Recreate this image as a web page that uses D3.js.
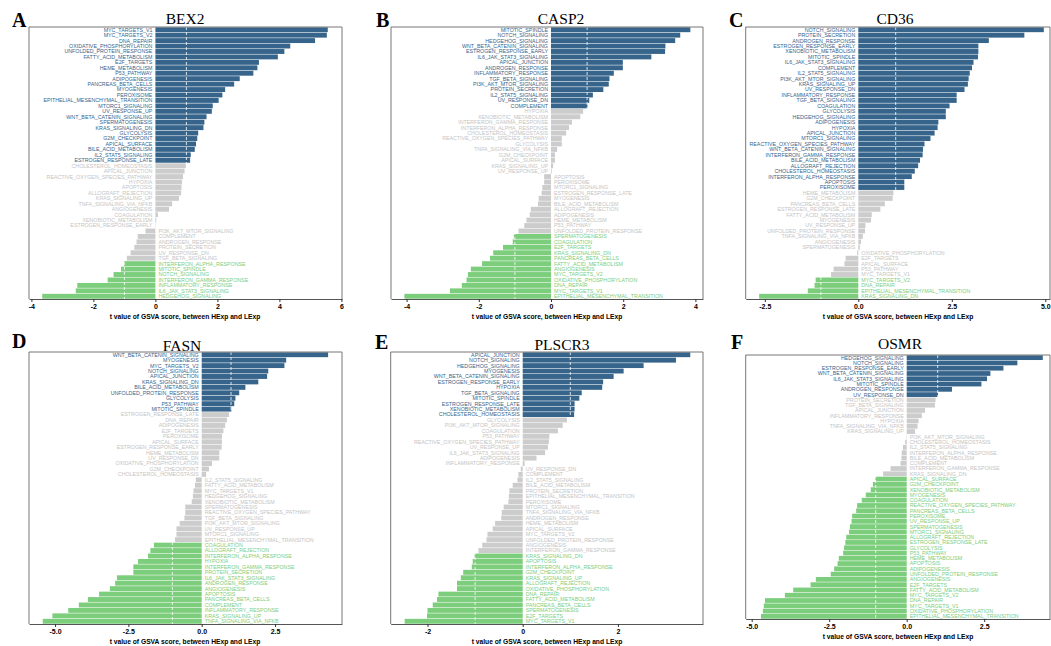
<!DOCTYPE html>
<html><head><meta charset="utf-8">
<script src="https://cdn.jsdelivr.net/npm/d3@7"></script>
<style>body{margin:0;background:#fff}svg{display:block}</style>
</head><body>
<svg id="chart" width="1051" height="646"></svg>
<script>
// ---------- DATA ----------
const bex2Sets = ["MYC_TARGETS_V1","MYC_TARGETS_V2","DNA_REPAIR","OXIDATIVE_PHOSPHORYLATION","UNFOLDED_PROTEIN_RESPONSE","FATTY_ACID_METABOLISM","E2F_TARGETS","HEME_METABOLISM","P53_PATHWAY","ADIPOGENESIS","PANCREAS_BETA_CELLS","MYOGENESIS","PEROXISOME","EPITHELIAL_MESENCHYMAL_TRANSITION","MTORC1_SIGNALING","UV_RESPONSE_UP","WNT_BETA_CATENIN_SIGNALING","SPERMATOGENESIS","KRAS_SIGNALING_DN","GLYCOLYSIS","G2M_CHECKPOINT","APICAL_SURFACE","BILE_ACID_METABOLISM","IL2_STAT5_SIGNALING","ESTROGEN_RESPONSE_LATE","CHOLESTEROL_HOMEOSTASIS","APICAL_JUNCTION","REACTIVE_OXYGEN_SPECIES_PATHWAY","HYPOXIA","APOPTOSIS","ALLOGRAFT_REJECTION","KRAS_SIGNALING_UP","TNFA_SIGNALING_VIA_NFKB","ANGIOGENESIS","COAGULATION","XENOBIOTIC_METABOLISM","ESTROGEN_RESPONSE_EARLY","PI3K_AKT_MTOR_SIGNALING","COMPLEMENT","ANDROGEN_RESPONSE","PROTEIN_SECRETION","UV_RESPONSE_DN","TGF_BETA_SIGNALING","INTERFERON_ALPHA_RESPONSE","MITOTIC_SPINDLE","NOTCH_SIGNALING","INTERFERON_GAMMA_RESPONSE","INFLAMMATORY_RESPONSE","IL6_JAK_STAT3_SIGNALING","HEDGEHOG_SIGNALING"];
const bex2T = [5.56,5.53,5.15,4.35,4.16,3.95,3.34,3.29,3.16,2.72,2.54,2.25,2.16,2.04,1.85,1.82,1.65,1.58,1.55,1.38,1.35,1.31,1.27,1.14,1.12,0.98,0.94,0.89,0.86,0.84,0.83,0.76,0.54,0.44,0.08,0.03,0.01,-0.32,-0.57,-0.61,-0.68,-0.80,-0.92,-1.01,-1.11,-1.35,-1.54,-2.52,-2.57,-3.65];

const casp2Sets = ["MITOTIC_SPINDLE","NOTCH_SIGNALING","HEDGEHOG_SIGNALING","WNT_BETA_CATENIN_SIGNALING","ESTROGEN_RESPONSE_EARLY","IL6_JAK_STAT3_SIGNALING","APICAL_JUNCTION","ANDROGEN_RESPONSE","INFLAMMATORY_RESPONSE","TGF_BETA_SIGNALING","PI3K_AKT_MTOR_SIGNALING","PROTEIN_SECRETION","IL2_STAT5_SIGNALING","UV_RESPONSE_DN","COMPLEMENT","HYPOXIA","XENOBIOTIC_METABOLISM","INTERFERON_GAMMA_RESPONSE","INTERFERON_ALPHA_RESPONSE","CHOLESTEROL_HOMEOSTASIS","REACTIVE_OXYGEN_SPECIES_PATHWAY","GLYCOLYSIS","TNFA_SIGNALING_VIA_NFKB","G2M_CHECKPOINT","APICAL_SURFACE","KRAS_SIGNALING_UP","UV_RESPONSE_UP","APOPTOSIS","PEROXISOME","MTORC1_SIGNALING","ESTROGEN_RESPONSE_LATE","MYOGENESIS","BILE_ACID_METABOLISM","ALLOGRAFT_REJECTION","ADIPOGENESIS","HEME_METABOLISM","P53_PATHWAY","UNFOLDED_PROTEIN_RESPONSE","SPERMATOGENESIS","COAGULATION","E2F_TARGETS","KRAS_SIGNALING_DN","PANCREAS_BETA_CELLS","FATTY_ACID_METABOLISM","ANGIOGENESIS","MYC_TARGETS_V2","OXIDATIVE_PHOSPHORYLATION","DNA_REPAIR","MYC_TARGETS_V1","EPITHELIAL_MESENCHYMAL_TRANSITION"];
const casp2T = [3.86,3.58,3.44,3.17,3.16,2.78,1.99,1.99,1.74,1.62,1.60,1.45,1.16,1.06,1.01,0.89,0.81,0.58,0.50,0.42,0.30,0.30,0.17,0.11,0.11,0.06,0.02,-0.19,-0.19,-0.24,-0.26,-0.34,-0.36,-0.56,-0.59,-0.68,-0.74,-0.90,-1.03,-1.06,-1.33,-1.60,-1.69,-1.91,-2.22,-2.30,-2.34,-2.47,-2.80,-4.06];

const cd36Sets = ["NOTCH_SIGNALING","PROTEIN_SECRETION","ANDROGEN_RESPONSE","ESTROGEN_RESPONSE_EARLY","XENOBIOTIC_METABOLISM","MITOTIC_SPINDLE","IL6_JAK_STAT3_SIGNALING","COMPLEMENT","IL2_STAT5_SIGNALING","PI3K_AKT_MTOR_SIGNALING","KRAS_SIGNALING_UP","UV_RESPONSE_DN","INFLAMMATORY_RESPONSE","TGF_BETA_SIGNALING","COAGULATION","GLYCOLYSIS","HEDGEHOG_SIGNALING","ADIPOGENESIS","HYPOXIA","APICAL_JUNCTION","MTORC1_SIGNALING","REACTIVE_OXYGEN_SPECIES_PATHWAY","WNT_BETA_CATENIN_SIGNALING","INTERFERON_GAMMA_RESPONSE","BILE_ACID_METABOLISM","ALLOGRAFT_REJECTION","CHOLESTEROL_HOMEOSTASIS","INTERFERON_ALPHA_RESPONSE","APOPTOSIS","PEROXISOME","HEME_METABOLISM","G2M_CHECKPOINT","PANCREAS_BETA_CELLS","ESTROGEN_RESPONSE_LATE","FATTY_ACID_METABOLISM","MYOGENESIS","UV_RESPONSE_UP","UNFOLDED_PROTEIN_RESPONSE","TNFA_SIGNALING_VIA_NFKB","ANGIOGENESIS","SPERMATOGENESIS","OXIDATIVE_PHOSPHORYLATION","E2F_TARGETS","APICAL_SURFACE","P53_PATHWAY","MYC_TARGETS_V1","MYC_TARGETS_V2","DNA_REPAIR","EPITHELIAL_MESENCHYMAL_TRANSITION","KRAS_SIGNALING_DN"];
const cd36T = [4.96,4.44,3.49,3.21,3.21,3.20,3.08,3.04,2.98,2.95,2.93,2.84,2.63,2.63,2.44,2.34,2.34,2.14,2.12,2.04,1.93,1.77,1.73,1.72,1.65,1.60,1.51,1.43,1.23,1.23,0.94,0.92,0.71,0.59,0.36,0.34,0.19,0.18,0.12,0.07,0.04,-0.03,-0.34,-0.37,-0.66,-0.73,-1.14,-1.17,-1.35,-2.65];

const fasnSets = ["WNT_BETA_CATENIN_SIGNALING","MYOGENESIS","MYC_TARGETS_V2","NOTCH_SIGNALING","APICAL_JUNCTION","KRAS_SIGNALING_DN","BILE_ACID_METABOLISM","UNFOLDED_PROTEIN_RESPONSE","GLYCOLYSIS","P53_PATHWAY","MITOTIC_SPINDLE","ESTROGEN_RESPONSE_LATE","DNA_REPAIR","ADIPOGENESIS","E2F_TARGETS","PEROXISOME","APICAL_SURFACE","ESTROGEN_RESPONSE_EARLY","HEME_METABOLISM","UV_RESPONSE_DN","OXIDATIVE_PHOSPHORYLATION","G2M_CHECKPOINT","CHOLESTEROL_HOMEOSTASIS","IL2_STAT5_SIGNALING","FATTY_ACID_METABOLISM","MYC_TARGETS_V1","HEDGEHOG_SIGNALING","XENOBIOTIC_METABOLISM","SPERMATOGENESIS","REACTIVE_OXYGEN_SPECIES_PATHWAY","TGF_BETA_SIGNALING","PI3K_AKT_MTOR_SIGNALING","UV_RESPONSE_UP","MTORC1_SIGNALING","EPITHELIAL_MESENCHYMAL_TRANSITION","COAGULATION","ALLOGRAFT_REJECTION","INTERFERON_ALPHA_RESPONSE","HYPOXIA","INTERFERON_GAMMA_RESPONSE","PROTEIN_SECRETION","IL6_JAK_STAT3_SIGNALING","ANDROGEN_RESPONSE","ANGIOGENESIS","APOPTOSIS","PANCREAS_BETA_CELLS","COMPLEMENT","INFLAMMATORY_RESPONSE","KRAS_SIGNALING_UP","TNFA_SIGNALING_VIA_NFKB"];
const fasnT = [4.31,2.88,2.82,2.27,2.23,1.93,1.49,1.28,1.15,1.11,1.01,0.93,0.86,0.80,0.74,0.69,0.69,0.68,0.60,0.60,0.35,0.25,0.15,-0.20,-0.23,-0.28,-0.30,-0.34,-0.56,-0.56,-0.59,-0.75,-0.86,-0.86,-0.91,-1.63,-1.75,-1.83,-2.17,-2.33,-2.33,-2.89,-2.95,-3.13,-3.50,-3.88,-4.19,-4.55,-5.09,-5.42];

const plscr3Sets = ["APICAL_JUNCTION","NOTCH_SIGNALING","HEDGEHOG_SIGNALING","MYOGENESIS","WNT_BETA_CATENIN_SIGNALING","ESTROGEN_RESPONSE_EARLY","HYPOXIA","TGF_BETA_SIGNALING","MITOTIC_SPINDLE","ESTROGEN_RESPONSE_LATE","XENOBIOTIC_METABOLISM","CHOLESTEROL_HOMEOSTASIS","GLYCOLYSIS","PI3K_AKT_MTOR_SIGNALING","COAGULATION","P53_PATHWAY","REACTIVE_OXYGEN_SPECIES_PATHWAY","UV_RESPONSE_UP","IL6_JAK_STAT3_SIGNALING","ADIPOGENESIS","INFLAMMATORY_RESPONSE","UV_RESPONSE_DN","COMPLEMENT","IL2_STAT5_SIGNALING","BILE_ACID_METABOLISM","PROTEIN_SECRETION","EPITHELIAL_MESENCHYMAL_TRANSITION","PEROXISOME","MTORC1_SIGNALING","TNFA_SIGNALING_VIA_NFKB","ANDROGEN_RESPONSE","HEME_METABOLISM","APICAL_SURFACE","MYC_TARGETS_V2","UNFOLDED_PROTEIN_RESPONSE","ANGIOGENESIS","INTERFERON_GAMMA_RESPONSE","KRAS_SIGNALING_DN","APOPTOSIS","INTERFERON_ALPHA_RESPONSE","G2M_CHECKPOINT","KRAS_SIGNALING_UP","ALLOGRAFT_REJECTION","OXIDATIVE_PHOSPHORYLATION","DNA_REPAIR","FATTY_ACID_METABOLISM","PANCREAS_BETA_CELLS","SPERMATOGENESIS","E2F_TARGETS","MYC_TARGETS_V1"];
const plscr3T = [3.52,3.22,2.54,2.12,1.91,1.69,1.67,1.24,1.19,1.09,1.09,1.08,0.93,0.84,0.74,0.56,0.55,0.53,0.47,0.29,0.04,-0.04,-0.09,-0.11,-0.21,-0.28,-0.29,-0.30,-0.40,-0.44,-0.45,-0.58,-0.63,-0.74,-0.76,-0.85,-0.93,-1.01,-1.05,-1.07,-1.25,-1.30,-1.38,-1.38,-1.77,-1.80,-1.89,-2.00,-2.01,-2.48];

const osmrSets = ["HEDGEHOG_SIGNALING","NOTCH_SIGNALING","ESTROGEN_RESPONSE_EARLY","WNT_BETA_CATENIN_SIGNALING","IL6_JAK_STAT3_SIGNALING","MITOTIC_SPINDLE","ANDROGEN_RESPONSE","UV_RESPONSE_DN","PROTEIN_SECRETION","TGF_BETA_SIGNALING","APICAL_JUNCTION","INFLAMMATORY_RESPONSE","HYPOXIA","TNFA_SIGNALING_VIA_NFKB","KRAS_SIGNALING_UP","PI3K_AKT_MTOR_SIGNALING","CHOLESTEROL_HOMEOSTASIS","IL2_STAT5_SIGNALING","INTERFERON_ALPHA_RESPONSE","BILE_ACID_METABOLISM","COMPLEMENT","INTERFERON_GAMMA_RESPONSE","KRAS_SIGNALING_DN","APICAL_SURFACE","G2M_CHECKPOINT","XENOBIOTIC_METABOLISM","MYOGENESIS","COAGULATION","REACTIVE_OXYGEN_SPECIES_PATHWAY","PANCREAS_BETA_CELLS","PEROXISOME","UV_RESPONSE_UP","SPERMATOGENESIS","MTORC1_SIGNALING","ALLOGRAFT_REJECTION","ESTROGEN_RESPONSE_LATE","GLYCOLYSIS","P53_PATHWAY","HEME_METABOLISM","APOPTOSIS","ADIPOGENESIS","UNFOLDED_PROTEIN_RESPONSE","ANGIOGENESIS","E2F_TARGETS","FATTY_ACID_METABOLISM","MYC_TARGETS_V2","DNA_REPAIR","MYC_TARGETS_V1","OXIDATIVE_PHOSPHORYLATION","EPITHELIAL_MESENCHYMAL_TRANSITION"];
const osmrT = [4.39,3.57,3.12,2.70,2.59,2.41,1.46,1.01,0.93,0.91,0.59,0.49,0.38,0.35,0.27,-0.01,-0.05,-0.12,-0.16,-0.17,-0.20,-0.52,-0.76,-1.01,-1.09,-1.16,-1.32,-1.45,-1.60,-1.63,-1.76,-1.78,-1.83,-1.86,-1.95,-1.98,-2.02,-2.05,-2.19,-2.23,-2.34,-2.45,-2.93,-3.10,-3.66,-3.93,-4.57,-4.61,-4.64,-4.70];

const panelLetters = ["A","B","C","D","E","F"];
const panelGenes = ["BEX2","CASP2","CD36","FASN","PLSCR3","OSMR"];
const panelTicks = [[-4,-2,0,2,4,6],[-4,-2,0,2,4],[-2.5,0,2.5,5],[-5,-2.5,0,2.5],[-2,0,2],[-5,-2.5,0,2.5]];
const axisTitle = "t value of GSVA score, between HExp and LExp";

// ---------- LAYOUT ----------
const layout = [
  {sets: bex2Sets, t: bex2T, L:29, R:342, T:27, B:299, zero:155.4, unit:31.0, fmt:"d", tx:185, ty:24, lx:12, ly:26.7, ax:185},
  {sets: casp2Sets, t: casp2T, L:391, R:703, T:27, B:299, zero:551, unit:36.1, fmt:"d", tx:561, ty:24, lx:376, ly:27, ax:547},
  {sets: cd36Sets, t: cd36T, L:745.7, R:1050, T:27, B:299, zero:858.3, unit:37.4, fmt:".1f", tx:895, ty:24, lx:729, ly:26.7, ax:898},
  {sets: fasnSets, t: fasnT, L:29, R:342, T:352, B:624, zero:201.7, unit:29.33, fmt:".1f", tx:182, ty:350.5, lx:12, ly:348, ax:185},
  {sets: plscr3Sets, t: plscr3T, L:390.7, R:703, T:352, B:624, zero:522.7, unit:47.6, fmt:"d", tx:562, ty:350, lx:375, ly:349, ax:547},
  {sets: osmrSets, t: osmrT, L:745.7, R:1050, T:355, B:619, zero:906.7, unit:31.0, fmt:".1f", tx:900, ty:349, lx:731, ly:349, ax:898}
];

const BLUE = "#36648B", GREEN = "#7CCD7C", GREY = "#CCCCCC";
const colorOf = v => v > 1 ? BLUE : (v < -1 ? GREEN : GREY);
const labelColorOf = v => v > 1 ? BLUE : (v < -1 ? GREEN : "#C4C4C4");

const svg = d3.select("#chart");

layout.forEach((p, i) => {
  const rows = p.sets.map((s, k) => ({name: s, v: p.t[k]}));
  const x = d3.scaleLinear()
    .domain([(p.L - p.zero) / p.unit, (p.R - p.zero) / p.unit])
    .range([p.L, p.R]);
  const y = d3.scaleBand().domain(p.sets).range([p.T, p.B]).paddingInner(0.1).paddingOuter(0.05);

  const g = svg.append("g");
  // background (clips the previous panel)
  g.append("rect").attr("x", p.L - 0.5).attr("y", p.T).attr("width", p.R - p.L).attr("height", p.B - p.T).attr("fill", "#fff");

  // bars
  g.selectAll("rect.bar").data(rows).join("rect")
    .attr("class", "bar")
    .attr("x", d => x(Math.min(0, d.v)))
    .attr("width", d => Math.abs(x(d.v) - x(0)))
    .attr("y", d => y(d.name))
    .attr("height", y.bandwidth())
    .attr("fill", d => colorOf(d.v));

  // dashed reference lines at ±1
  [-1, 1].forEach(r => {
    g.append("line").attr("x1", x(r)).attr("x2", x(r)).attr("y1", p.T).attr("y2", p.B)
      .attr("stroke", "#fff").attr("stroke-width", 0.8).attr("stroke-dasharray", "3,2");
  });

  // labels
  g.selectAll("text.lab").data(rows).join("text")
    .attr("class", "lab")
    .attr("x", d => d.v >= 0 ? x(0) - 3 : x(0) + 3)
    .attr("y", d => y(d.name) + y.bandwidth() / 2)
    .attr("dy", "0.36em")
    .attr("text-anchor", d => d.v >= 0 ? "end" : "start")
    .attr("font-family", "Liberation Sans, Arial, sans-serif")
    .attr("font-size", 5.3)
    .attr("fill", d => labelColorOf(d.v))
    .text(d => d.name);

  // frame
  g.append("path")
    .attr("d", `M${p.L},${p.B}V${p.T}H${p.R}V${p.B}`)
    .attr("fill", "none").attr("stroke", "#777").attr("stroke-width", 1);

  // x axis
  const fmt = p.fmt === "d" ? (v => String(v)) : (v => v.toFixed(1));
  const ax = g.append("g").attr("transform", `translate(0,${p.B})`)
    .call(d3.axisBottom(x).tickValues(panelTicks[i]).tickSize(3).tickSizeOuter(0).tickFormat(fmt));
  ax.select(".domain").attr("stroke", "#555");
  ax.selectAll(".tick line").attr("stroke", "#333");
  ax.selectAll(".tick text").attr("font-family", "Liberation Sans, Arial, sans-serif")
    .attr("font-size", 7).attr("font-weight", "bold").attr("fill", "#000").attr("dy", "0.85em").attr("y", 4);

  // axis title
  g.append("text").attr("x", p.ax).attr("y", p.B + 20)
    .attr("text-anchor", "middle")
    .attr("font-family", "Liberation Sans, Arial, sans-serif")
    .attr("font-size", 6.7).attr("font-weight", "bold").attr("fill", "#000")
    .text(axisTitle);

  // gene title
  g.append("text").attr("x", p.tx).attr("y", p.ty).attr("text-anchor", "middle")
    .attr("font-family", "Liberation Serif, Times New Roman, serif")
    .attr("font-size", 15.5).attr("fill", "#000").text(panelGenes[i]);

  // panel letter
  g.append("text").attr("x", p.lx).attr("y", p.ly)
    .attr("font-family", "Liberation Serif, Times New Roman, serif")
    .attr("font-size", 20).attr("font-weight", "bold").attr("fill", "#000").text(panelLetters[i]);
});
</script>
</body></html>
